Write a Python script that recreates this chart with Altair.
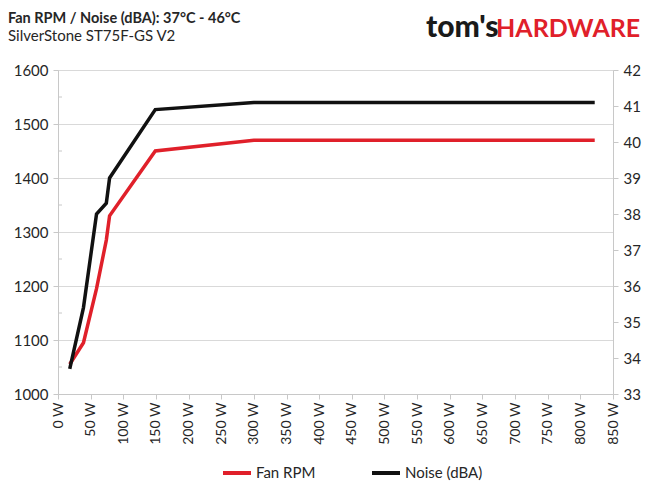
import altair as alt
import pandas as pd

# ---- data ----
watts = [18, 39, 59, 74, 79, 149, 300, 373, 822]
fan_rpm = [1055, 1095, 1195, 1285, 1330, 1450, 1470, 1470, 1470]
noise_dba = [33.7, 35.4, 38.0, 38.3, 39.0, 40.9, 41.1, 41.1, 41.1]

x_ticks = list(range(0, 851, 50))
rpm_ticks = list(range(1000, 1601, 100))
rpm_minor = list(range(1050, 1600, 100))
dba_ticks = list(range(33, 43))

series_names = ["Fan RPM", "Noise (dBA)"]
series_colors = ["#e0202a", "#111111"]

title_text = "Fan RPM / Noise (dBA): 37°C - 46°C"
subtitle_text = "SilverStone ST75F-GS V2"

df = pd.DataFrame({"W": watts, "rpm": fan_rpm, "dba": noise_dba})
minor_df = pd.DataFrame({"rpm": rpm_minor})

FONT = "Lato"
TXT = "#262626"
AX = "#c8c8c8"

x_enc = alt.X(
    "W:Q",
    scale=alt.Scale(domain=[0, 850], nice=False, zero=False),
    axis=alt.Axis(
        values=x_ticks, labelExpr="datum.value + ' W'", labelAngle=270,
        title=None, grid=False, domainColor=AX, tickColor=AX,
        tickSize=5, labelFontSize=14, labelColor=TXT, labelFont=FONT,
        labelPadding=3,
    ),
)

rpm_y_scale = alt.Scale(domain=[1000, 1600], nice=False, zero=False)
color_scale = alt.Scale(domain=series_names, range=series_colors)

rpm_line = alt.Chart(df).mark_line(strokeWidth=3.5, strokeJoin="miter").encode(
    x=x_enc,
    y=alt.Y(
        "rpm:Q",
        scale=rpm_y_scale,
        axis=alt.Axis(
            values=rpm_ticks, title=None, orient="left", grid=True, format="d",
            gridColor="#d9d9d9", domainColor=AX, tickColor=AX,
            tickSize=5, labelFontSize=15, labelColor=TXT, labelFont=FONT,
            labelPadding=5,
        ),
    ),
    color=alt.Color(
        "s:N", scale=color_scale,
        legend=alt.Legend(
            title=None, orient="none", legendX=163, legendY=387,
            direction="horizontal", symbolType="stroke", symbolSize=784,
            symbolStrokeWidth=4, labelFontSize=15, labelFont=FONT,
            labelColor=TXT, columnPadding=48, labelOffset=3,
        ),
    ),
).transform_calculate(s="'Fan RPM'")

minor_ticks = alt.Chart(minor_df).mark_rule(color=AX, strokeWidth=1).encode(
    y=alt.Y("rpm:Q", scale=rpm_y_scale),
    x=alt.value(0),
    x2=alt.value(4),
)

noise_line = alt.Chart(df).mark_line(strokeWidth=3.5, strokeJoin="miter").encode(
    x=x_enc,
    y=alt.Y(
        "dba:Q",
        scale=alt.Scale(domain=[33, 42], nice=False, zero=False),
        axis=alt.Axis(
            values=dba_ticks, title=None, orient="right", grid=False,
            domainColor=AX, tickColor=AX, tickSize=5,
            labelFontSize=15, labelColor=TXT, labelFont=FONT, labelPadding=5,
        ),
    ),
    color=alt.Color("s:N", scale=color_scale),
).transform_calculate(s="'Noise (dBA)'")


def label(text, x, y, size, weight, color):
    return alt.Chart(pd.DataFrame({"t": [text]})).mark_text(
        font=FONT, fontSize=size, fontWeight=weight, color=color,
        align="left", baseline="alphabetic",
    ).encode(text="t:N", x=alt.value(x), y=alt.value(y))


title_mark = label(title_text, -50, -47, 14.5, "bold", TXT)
subtitle_mark = label(subtitle_text, -50, -29, 15, "normal", TXT)
logo_a = label("tom's", 368, -33, 30, 900, "#1a1a1a")
logo_b = label("HARDWARE", 438, -33, 25, "bold", "#e0202a")

left_part = alt.layer(minor_ticks, rpm_line)
lines = alt.layer(left_part, noise_line).resolve_scale(y="independent")

chart = alt.layer(lines, title_mark, subtitle_mark, logo_a, logo_b).properties(
    width=555, height=324,
    autosize=alt.AutoSizeParams(type="none"),
    padding={"left": 50, "top": 62, "right": 30, "bottom": 88},
).configure_view(stroke=None).configure(background="white")

chart.save("out.html", embed_options={"renderer": "svg", "actions": False})
